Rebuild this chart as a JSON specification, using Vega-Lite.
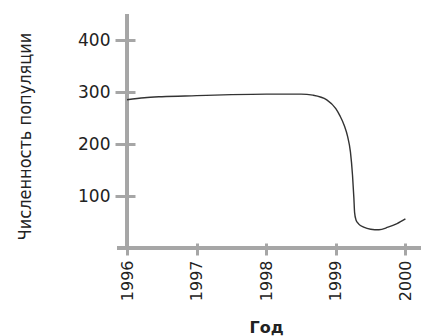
{
  "$schema": "https://vega.github.io/schema/vega-lite/v6.json",
  "autosize": "none",
  "width": 304,
  "height": 234,
  "padding": {"left": 117, "top": 14, "right": 0, "bottom": 88},
  "background": "white",
  "config": {"view": {"stroke": null}},
  "data": {"values": [
    {"year": 1996.0, "pop": 285},
    {"year": 1996.25, "pop": 289},
    {"year": 1996.5, "pop": 291},
    {"year": 1997.0, "pop": 293},
    {"year": 1997.5, "pop": 295},
    {"year": 1998.0, "pop": 296},
    {"year": 1998.5, "pop": 296},
    {"year": 1998.67, "pop": 294},
    {"year": 1998.87, "pop": 285},
    {"year": 1999.0, "pop": 268},
    {"year": 1999.06, "pop": 254},
    {"year": 1999.12, "pop": 236},
    {"year": 1999.17, "pop": 214},
    {"year": 1999.21, "pop": 185},
    {"year": 1999.24, "pop": 140},
    {"year": 1999.26, "pop": 95},
    {"year": 1999.27, "pop": 68},
    {"year": 1999.29, "pop": 54},
    {"year": 1999.33, "pop": 46},
    {"year": 1999.4, "pop": 40},
    {"year": 1999.5, "pop": 36},
    {"year": 1999.62, "pop": 35},
    {"year": 1999.75, "pop": 40},
    {"year": 1999.88, "pop": 47},
    {"year": 2000.0, "pop": 56}
  ]},
  "layer": [
    {
      "mark": {"type": "rule", "color": "#a6a6a6", "strokeWidth": 3},
      "encoding": {"x": {"datum": 1996, "type": "quantitative"}}
    },
    {
      "mark": {"type": "rule", "color": "#a6a6a6", "strokeWidth": 3},
      "encoding": {"y": {"datum": 0, "type": "quantitative"}}
    },
    {
      "mark": {"type": "line", "color": "#333333", "strokeWidth": 1.4, "interpolate": "monotone"},
      "encoding": {
        "x": {
          "field": "year", "type": "quantitative",
          "scale": {"domain": [1995.856, 2000.224], "nice": false, "zero": false},
          "axis": {
            "values": [1996, 1997, 1998, 1999, 2000],
            "format": "d",
            "domain": false,
            "grid": false,
            "offset": -5,
            "tickSize": 12,
            "tickWidth": 3,
            "tickColor": "#a6a6a6",
            "labelAngle": -90,
            "labelAlign": "right",
            "labelBaseline": "middle",
            "labelPadding": 5,
            "labelFont": "DejaVu Sans",
            "labelFontSize": 16,
            "labelColor": "#222222",
            "labelFlush": false,
            "labelOverlap": false,
            "title": "Год",
            "titleFont": "DejaVu Sans",
            "titleFontSize": 16,
            "titleFontWeight": "bold",
            "titleColor": "#222222",
            "titlePadding": 19,
            "titleAnchor": "middle",
            "titleX": 149
          }
        },
        "y": {
          "field": "pop", "type": "quantitative",
          "scale": {"domain": [0, 450], "nice": false},
          "axis": {
            "values": [100, 200, 300, 400],
            "domain": false,
            "grid": false,
            "offset": -18,
            "tickSize": 20,
            "tickWidth": 3,
            "tickColor": "#a6a6a6",
            "labelPadding": 5,
            "labelFont": "DejaVu Sans",
            "labelFontSize": 17,
            "labelColor": "#222222",
            "title": "Численность популяции",
            "titleFont": "DejaVu Sans Condensed",
            "titleFontSize": 18,
            "titleFontWeight": "normal",
            "titleColor": "#222222",
            "titleX": -101,
            "titleY": 122,
            "titleAnchor": "middle"
          }
        }
      }
    }
  ]
}
